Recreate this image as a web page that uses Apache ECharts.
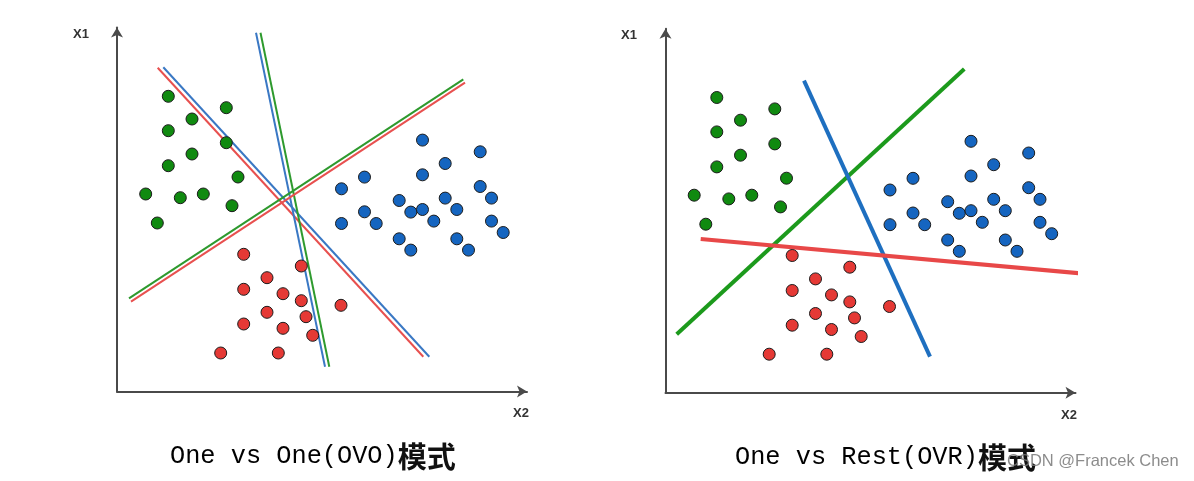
<!DOCTYPE html>
<html>
<head>
<meta charset="utf-8">
<script src="https://cdn.jsdelivr.net/npm/echarts@6/dist/echarts.min.js"></script>
<style>
html,body{margin:0;padding:0;background:#fff;}
#chart{width:1194px;height:481px;}
</style>
</head>
<body>
<div id="chart"></div>
<script>
// ---- data (plot units: x along X2, y along X1) ----
const greenPoints = [[5.13,29.52],[10.93,28.38],[7.5,27.25],[5.13,26.08],[10.93,24.88],[7.5,23.75],[5.13,22.58],[12.1,21.45],[2.87,19.75],[6.33,19.38],[8.63,19.75],[11.5,18.58],[4.03,16.85]];
const bluePoints = [[30.55,25.14],[36.32,23.97],[32.82,22.8],[24.75,21.44],[30.55,21.67],[22.45,20.27],[36.32,20.5],[28.22,19.1],[37.45,19.34],[32.82,19.34],[24.75,17.97],[29.38,17.94],[30.55,18.2],[33.98,18.2],[22.45,16.8],[25.92,16.8],[31.68,17.04],[37.45,17.04],[38.62,15.9],[28.22,15.27],[33.98,15.27],[29.38,14.14],[35.15,14.14]];
const redPoints = [[12.67,13.72],[18.43,12.55],[15.0,11.38],[12.67,10.22],[16.6,9.78],[18.43,9.08],[22.4,8.62],[15.0,7.92],[18.9,7.48],[12.67,6.75],[16.6,6.32],[19.57,5.62],[10.37,3.85],[16.13,3.85]];

// OVO boundaries (each drawn as a pair of coloured lines)
const ovoLineA_red = [[4.07,32.38],[30.63,3.48]];
const ovoLineA_blue = [[4.63,32.42],[31.23,3.48]];
const ovoLineB_blue = [[13.9,35.88],[20.8,2.48]];
const ovoLineB_green = [[14.35,35.88],[21.23,2.48]];
const ovoLineC_green = [[1.2,9.32],[34.63,31.22]];
const ovoLineC_red = [[1.4,8.98],[34.8,30.88]];

// OVR boundaries
const ovrGreen = [[1.12,5.84],[29.88,32.37]];
const ovrBlue = [[13.85,31.2],[26.45,3.6]];
const ovrRed = [[3.52,15.37],[41.45,11.94]];

const titleLeftText = 'One vs One(OVO)';
const titleRightText = 'One vs Rest(OVR)';
const titleSuffix = '模式';
const axisNameY = 'X1';
const axisNameX = 'X2';
const watermark = 'CSDN @Francek Chen';

const X_MAX = 41, Y_MAX = 36.4;

const chart = echarts.init(document.getElementById('chart'), null, {renderer:'canvas'});

function makeX(gridIndex){
  return {
    type:'value', gridIndex, min:0, max:X_MAX,
    splitLine:{show:false}, axisTick:{show:false}, axisLabel:{show:false},
    axisLine:{show:true, symbol:['none','arrow'], symbolSize:[9,10], lineStyle:{color:'#4a4a4a', width:2}}
  };
}
function makeY(gridIndex, gap, padRight){
  return {
    type:'value', gridIndex, min:0, max:Y_MAX,
    splitLine:{show:false}, axisTick:{show:false}, axisLabel:{show:false},
    axisLine:{show:true, symbol:['none','arrow'], symbolSize:[9,10], lineStyle:{color:'#4a4a4a', width:2}},
    name:axisNameY, nameLocation:'end', nameGap:gap,
    nameTextStyle:{color:'#333', fontSize:13, fontWeight:'bold', fontFamily:'Liberation Sans', align:'right', verticalAlign:'middle', padding:[0,padRight,0,0]}
  };
}
function scatter(idx, data, color){
  return {type:'scatter', xAxisIndex:idx, yAxisIndex:idx, data, symbol:'circle', symbolSize:12,
    itemStyle:{color, borderColor:'#1c1c1c', borderWidth:1, opacity:1}, silent:true, z:3};
}
function line(idx, data, color, width){
  return {type:'line', xAxisIndex:idx, yAxisIndex:idx, data, symbol:'none', clip:false,
    lineStyle:{color, width}, silent:true, z:2};
}

const titleStyle = {
  color:'#000', fontSize:25.3, fontWeight:'normal', fontFamily:'Liberation Mono',
  rich:{ c:{fontSize:29, fontFamily:'Noto Sans CJK SC', color:'#111', fontWeight:'bold'} }
};

chart.setOption({
  animation:false,
  backgroundColor:'#fff',
  title:[
    {text: titleLeftText + '{c|' + titleSuffix + '}', left:165, top:437, textStyle:titleStyle},
    {text: titleRightText + '{c|' + titleSuffix + '}', left:730, top:438, textStyle:titleStyle}
  ],
  grid:[
    {left:117, top:27.5, width:410, height:364},
    {left:665.5, top:28.7, width:410, height:364}
  ],
  xAxis:[ makeX(0), makeX(1) ],
  yAxis:[ makeY(0, -6.5, 28), makeY(1, -6.3, 28.5) ],
  graphic:[
    {type:'text', x:513, y:407, style:{text:axisNameX, fill:'#333', font:'bold 13px "Liberation Sans"'}},
    {type:'text', x:1061, y:409, style:{text:axisNameX, fill:'#333', font:'bold 13px "Liberation Sans"'}},
    {type:'text', x:1007, y:453, style:{text:watermark, fill:'rgba(120,120,120,0.85)', font:'16.5px "Liberation Sans"'}, z:10}
  ],
  series:[
    line(0, ovoLineA_red, '#e8504f', 2),
    line(0, ovoLineA_blue, '#3a78c4', 2),
    line(0, ovoLineB_blue, '#3a78c4', 2),
    line(0, ovoLineB_green, '#2e9a2e', 2),
    line(0, ovoLineC_green, '#2e9a2e', 2),
    line(0, ovoLineC_red, '#e8504f', 2),
    scatter(0, greenPoints, '#108a10'),
    scatter(0, bluePoints, '#1565c0'),
    scatter(0, redPoints, '#e53935'),
    line(1, ovrGreen, '#1c9a1c', 4),
    line(1, ovrBlue, '#1e6fc0', 4),
    line(1, ovrRed, '#e84848', 4),
    scatter(1, greenPoints, '#108a10'),
    scatter(1, bluePoints, '#1565c0'),
    scatter(1, redPoints, '#e53935')
  ]
});
</script>
</body>
</html>
